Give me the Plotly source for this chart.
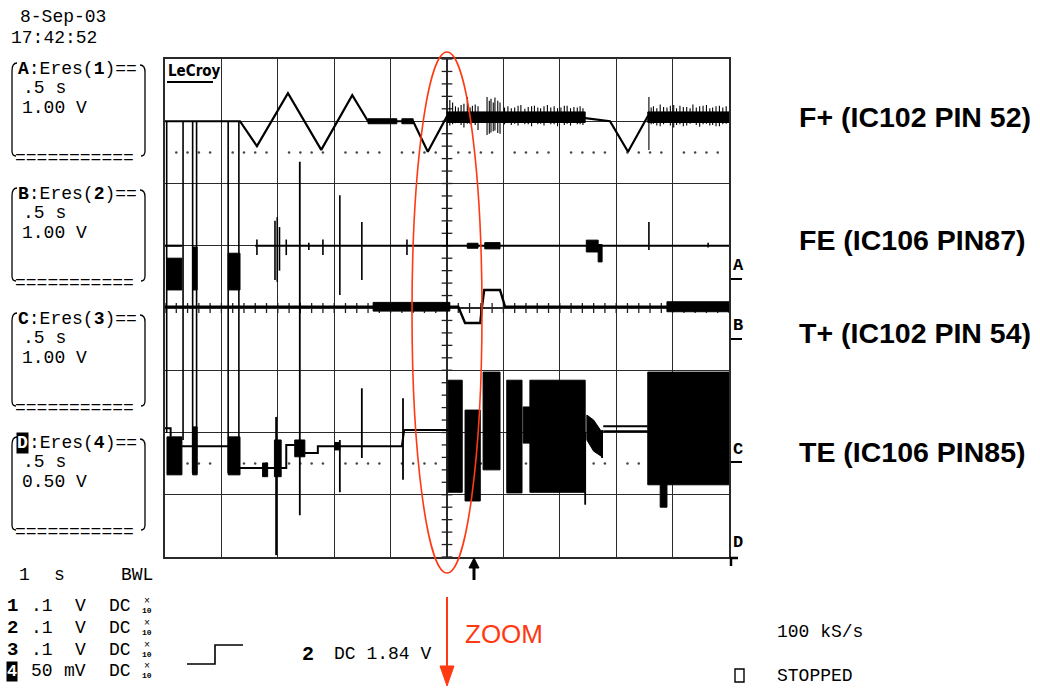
import plotly.graph_objects as go

W, H = 1040, 688
GX0, GX1, GY0, GY1 = 165, 729, 59, 557   # graticule box (page pixels)

# ---------------- data : x in time divisions (0.5 s/div), y in screen divisions ----------------
SEC_PER_DIV = 0.5

# Channel A : F+ (IC102 PIN 52)
A_t = [0.00, 1.33, 1.63, 2.18, 2.77, 3.32, 3.60, 4.40, 4.66, 5.00, 5.05, 7.45, 7.89, 8.21, 8.56, 10.00]
A_v = [7.00, 7.00, 6.60, 7.45, 6.54, 7.42, 7.00, 7.00, 6.51, 7.08, 7.12, 7.05, 7.00, 6.51, 7.08, 7.08]
A_band_t0 = [3.60, 4.20, 5.00, 8.56]
A_band_t1 = [4.11, 4.40, 7.45, 10.00]
A_band_lo = [6.96, 6.96, 6.98, 6.98]
A_band_hi = [7.04, 7.04, 7.15, 7.15]
A_spk_t = [5.05, 5.10, 5.15, 5.20, 5.25, 5.30, 5.36, 5.41, 5.45, 5.50, 5.55, 5.71, 5.75, 5.78, 5.82, 5.85, 5.90,
           5.94, 6.02, 6.08, 6.14, 6.20, 6.26, 6.31, 6.38, 6.44, 6.50, 6.55, 6.61, 6.66, 6.72, 6.78, 6.84, 6.90,
           6.96, 7.02, 7.08, 7.13, 7.19, 7.25, 7.31, 7.36, 7.41,
           8.58, 8.62, 8.66, 8.72, 8.78, 8.84, 8.90, 8.96, 9.02, 9.07, 9.13, 9.19, 9.25, 9.31, 9.36, 9.42, 9.48,
           9.54, 9.60, 9.66, 9.71, 9.77, 9.83, 9.89, 9.95]
A_spk_lo = [6.93, 6.95, 6.97, 6.98, 6.94, 6.90, 6.96, 6.95, 6.97, 6.94, 6.86, 6.78, 6.80, 6.82, 6.84, 6.85, 6.81,
            6.80, 6.95, 6.97, 6.94, 6.96, 6.93, 6.98, 6.95, 6.95, 6.92, 6.97, 6.95, 6.96, 6.93, 6.98, 6.95, 6.95,
            6.92, 6.97, 6.94, 6.96, 6.93, 6.98, 6.95, 6.95, 6.94,
            6.54, 6.95, 6.96, 6.93, 6.92, 6.95, 6.97, 6.93, 6.90, 6.94, 6.95, 6.92, 6.93, 6.96, 6.97, 6.94, 6.91,
            6.95, 6.96, 6.93, 6.94, 6.92, 6.92, 6.95, 6.96]
A_spk_hi = [7.34, 7.30, 7.24, 7.22, 7.26, 7.28, 7.39, 7.22, 7.25, 7.27, 7.24, 7.39, 7.33, 7.36, 7.30, 7.38, 7.33,
            7.30, 7.22, 7.24, 7.21, 7.22, 7.25, 7.26, 7.20, 7.23, 7.24, 7.25, 7.22, 7.21, 7.24, 7.26, 7.22, 7.24,
            7.21, 7.22, 7.25, 7.25, 7.21, 7.23, 7.22, 7.24, 7.21,
            7.39, 7.22, 7.24, 7.21, 7.27, 7.23, 7.22, 7.25, 7.26, 7.21, 7.25, 7.23, 7.23, 7.21, 7.27, 7.22, 7.24,
            7.25, 7.26, 7.21, 7.22, 7.24, 7.25, 7.22, 7.24]

# glitches common to all channels (vertical transitions)
G_t = [0.03, 0.32, 0.49, 0.56, 1.12, 1.31]
G_lo = [1.99, 1.88, 1.35, 1.35, 1.35, 1.35]
G_hi = [7.00, 7.00, 7.00, 7.00, 7.00, 7.00]

# Channel B : FE (IC106 PIN87)
B_t = [0.00, 0.30, None, 1.60, 10.00]
B_v = [5.00, 5.00, None, 5.00, 5.00]
B_burst_t0 = [0.035, 0.49, 1.12, 5.36, 5.67, 7.47, 7.68]
B_burst_t1 = [0.30, 0.57, 1.33, 5.55, 5.94, 7.68, 7.75]
B_burst_lo = [4.29, 4.29, 4.29, 4.96, 4.95, 4.90, 4.74]
B_burst_hi = [4.80, 4.98, 4.88, 5.04, 5.05, 5.09, 5.02]
B_spk_t = [1.63, 1.95, 1.99, 2.03, 2.15, 2.55, 2.80, 3.10, 3.49, 4.29, 5.00, 8.58, 9.63]
B_spk_lo = [4.85, 4.45, 4.42, 4.60, 4.85, 4.93, 4.85, 4.21, 4.45, 4.85, 5.00, 4.93, 4.97]
B_spk_hi = [5.10, 5.40, 5.46, 5.30, 5.10, 5.05, 5.10, 5.81, 5.38, 5.10, 5.37, 5.38, 5.05]

# Channel C : T+ (IC102 PIN 54)
C_t = [0.00, 5.14, 5.20, 5.32, 5.59, 5.62, 5.66, 5.94, 6.03, 10.00]
C_v = [4.02, 4.02, 4.02, 3.76, 3.76, 4.02, 4.29, 4.29, 4.02, 4.02]
C_band_t0 = [3.69, 8.90]
C_band_t1 = [5.05, 10.00]
C_band_lo = [3.95, 3.94]
C_band_hi = [4.09, 4.10]

# Channel D : TE (IC106 PIN85)
D_t = [0.00, 0.10, 0.10, None, 0.30, 1.12, None, 1.33, 1.99, None, 2.01, 2.15, 2.15, 2.30, None,
       2.48, 2.71, 2.71, 4.20, 4.24, 5.02, None, 7.77, 8.56, None, 7.77, 8.56]
D_v = [2.07, 2.07, 1.93, None, 1.78, 1.78, None, 1.43, 1.43, None, 1.43, 1.43, 1.80, 1.80, None,
       1.67, 1.67, 1.78, 1.78, 2.04, 2.04, None, 2.02, 2.02, None, 2.10, 2.10]
D_burst_t0 = [0.035, 0.49, 1.12, 1.73, 1.94, 2.30, 3.01, 5.02, 5.32, 5.64, 6.06, 6.35, 6.47, 8.56, 8.78]
D_burst_t1 = [0.30, 0.57, 1.33, 1.82, 2.06, 2.48, 3.10, 5.27, 5.59, 5.94, 6.33, 6.47, 7.45, 10.00, 8.90]
D_burst_lo = [1.32, 1.32, 1.32, 1.29, 1.29, 1.61, 1.72, 1.04, 0.90, 1.40, 1.03, 1.83, 1.04, 1.16, 0.80]
D_burst_hi = [1.93, 2.09, 1.93, 1.51, 1.88, 1.88, 1.84, 2.84, 2.36, 2.97, 2.84, 2.41, 2.84, 2.97, 2.55]
D_decay_t = [7.48, 7.60, 7.75, 7.75, 7.60, 7.48]
D_decay_v = [2.28, 2.20, 2.00, 1.61, 1.70, 1.88]
D_spk_t = [1.97, 2.39, 3.10, 3.49, 4.22, 7.45, 7.75]
D_spk_lo = [0.03, 0.67, 1.04, 1.59, 1.24, 0.84, 1.59]
D_spk_hi = [2.25, 6.35, 1.88, 2.71, 2.55, 2.00, 2.04]

# ---------------- figure ----------------
def px(x):
    return x / W


def py(y):
    return 1 - y / H


fig = go.Figure()
INK = "black"


def add_lines(t, v, width=2.0):
    fig.add_trace(go.Scatter(x=t, y=v, mode="lines", line=dict(color=INK, width=width),
                             hoverinfo="skip", showlegend=False, connectgaps=False))


def add_spikes(ts, los, his, width=1.6):
    xs, ys = [], []
    for t, lo, hi in zip(ts, los, his):
        xs += [t, t, None]
        ys += [lo, hi, None]
    add_lines(xs, ys, width)


def add_blocks(t0s, t1s, los, his):
    for t0, t1, lo, hi in zip(t0s, t1s, los, his):
        fig.add_trace(go.Scatter(x=[t0, t1, t1, t0, t0], y=[lo, lo, hi, hi, lo], mode="lines",
                                 fill="toself", fillcolor=INK, line=dict(color=INK, width=1),
                                 hoverinfo="skip", showlegend=False))


# reference dots rows (graticule decoration)
dx, dy = [], []
for row in (6.5, 1.5):
    for k in range(10):
        for f in (0.2, 0.4, 0.6, 0.8):
            dx.append(k + f)
            dy.append(row)
fig.add_trace(go.Scatter(x=dx, y=dy, mode="markers", marker=dict(color="#444", size=2.5),
                         hoverinfo="skip", showlegend=False))

# centre cross-hair minor ticks
tx, ty = [], []
for k in range(41):
    yy = k * 0.2
    tx += [5 - 0.095, 5 + 0.095, None]
    ty += [yy, yy, None]
for k in range(51):
    xx = k * 0.2
    tx += [xx, xx, None]
    ty += [4 - 0.08, 4 + 0.08, None]
fig.add_trace(go.Scatter(x=tx, y=ty, mode="lines", line=dict(color="#222", width=1.3),
                         hoverinfo="skip", showlegend=False))

# channel A
add_blocks(A_band_t0, A_band_t1, A_band_lo, A_band_hi)
add_lines(A_t, A_v, 2.2)
add_spikes(A_spk_t, A_spk_lo, A_spk_hi, 1.1)
# glitches
add_spikes(G_t, G_lo, G_hi, 1.6)
# channel B
add_lines(B_t, B_v, 2.2)
add_blocks(B_burst_t0, B_burst_t1, B_burst_lo, B_burst_hi)
add_spikes(B_spk_t, B_spk_lo, B_spk_hi, 1.6)
# channel C
add_lines(C_t, C_v, 2.4)
add_blocks(C_band_t0, C_band_t1, C_band_lo, C_band_hi)
# channel D
add_lines(D_t, D_v, 2.0)
add_blocks(D_burst_t0, D_burst_t1, D_burst_lo, D_burst_hi)
fig.add_trace(go.Scatter(x=D_decay_t + [D_decay_t[0]], y=D_decay_v + [D_decay_v[0]], mode="lines",
                         fill="toself", fillcolor=INK, line=dict(color=INK, width=1),
                         hoverinfo="skip", showlegend=False))
add_spikes(D_spk_t, D_spk_lo, D_spk_hi, 1.8)

axis_common = dict(showgrid=True, gridcolor="#2a2a2a", gridwidth=1.4, zeroline=False,
                   showline=True, mirror=True, linecolor="#2a2a2a", linewidth=2,
                   showticklabels=False, ticks="", dtick=1, tick0=0, fixedrange=True)
fig.update_layout(
    width=W, height=H, margin=dict(l=0, r=0, t=0, b=0),
    paper_bgcolor="white", plot_bgcolor="white", showlegend=False,
    xaxis=dict(range=[0, 10], domain=[px(GX0), px(GX1)], **axis_common),
    yaxis=dict(range=[0, 8], domain=[py(GY1), py(GY0)], **axis_common),
)

MONO = "Liberation Mono, DejaVu Sans Mono, monospace"
SANS = "Liberation Sans, Arial, sans-serif"
anns = []
shapes = []


def text(s, x, y, size=17, color=INK, family=MONO, anchor="left", bg=None):
    d = dict(text=s, x=px(x), y=py(y), xref="paper", yref="paper", showarrow=False,
             xanchor=anchor, yanchor="middle", font=dict(family=family, size=size, color=color))
    if bg:
        d["bgcolor"] = bg
        d["borderpad"] = 0
    anns.append(d)


def path(p, color=INK, width=1.5, fill=None):
    d = dict(type="path", path=p, xref="paper", yref="paper", line=dict(color=color, width=width))
    if fill:
        d["fillcolor"] = fill
    shapes.append(d)


def P(x, y):
    return f"{px(x):.5f},{py(y):.5f}"


# header
text("8-Sep-03", 18, 17, 18)
text("17:42:52", 9, 38, 18)

# channel boxes
boxes = [("A", "1", "1.00 V", 69), ("B", "2", "1.00 V", 194), ("C", "3", "1.00 V", 319), ("D", "4", "0.50 V", 443)]
for letter, num, volts, top in boxes:
    if letter == "D":
        text("<b>D</b>", 16, top, 18, color="white", bg="black")
        text(f":Eres(<b>{num}</b>)==", 27, top, 18)
    else:
        text(f"<b>{letter}</b>:Eres(<b>{num}</b>)==", 16, top, 18)
    text(".5 s", 21, top + 19, 18)
    text(volts, 20, top + 39, 18)
    text("===========", 13, top + 89, 18)
    path(f"M{P(17, top - 6)} Q{P(12, top - 6)} {P(12, top + 2)} L{P(12, top + 82)} Q{P(12, top + 87)} {P(16, top + 87)}",
         width=1.3)
    path(f"M{P(140, top - 4)} Q{P(145, top - 4)} {P(145, top + 3)} L{P(145, top + 82)} Q{P(145, top + 87)} {P(141, top + 87)}",
         width=1.3)

# timebase / channel settings
text("1", 17, 575, 18)
text("s", 52, 575, 18)
text("BWL", 119, 575, 18)
rows = [("1", ".1", "V", 606), ("2", ".1", "V", 628), ("3", ".1", "V", 650), ("4", "50", "mV", 671)]
for ch, val, unit, y in rows:
    if ch == "4":
        text("<b>4</b>", 6, y, 17, color="white", bg="black")
    else:
        text(f"<b>{ch}</b>", 5, y, 19)
    text(val, 29, y, 18)
    text(unit, 73 if unit == "V" else 62, y, 18)
    text("DC", 107, y, 18)
    text("×", 147, y - 5, 10, anchor="center")
    text("<b>10</b>", 147, y + 4, 8, anchor="center")

# trigger symbol and setting
path(f"M{P(187, 664)} L{P(215, 664)} L{P(215, 645)} L{P(243, 645)}", width=1.6)
text("<b>2</b>", 300, 654, 20)
text("DC 1.84 V", 332, 654, 18)
text("100 kS/s", 775, 632, 18)
path(f"M{P(735, 669)} L{P(744, 669)} L{P(744, 682)} L{P(735, 682)} Z", width=1.4)
text("STOPPED", 775, 676, 18)

# LeCroy logo
text("<b>LeCroy</b>", 166, 71, 15, family="DejaVu Sans Condensed, DejaVu Sans, sans-serif")
path(f"M{P(167, 82)} L{P(213, 82)}", width=2)

# channel ground markers on the right edge
for lab, y, ul in (("A", 265, 279), ("B", 325, 339), ("C", 449, 462), ("D", 542, None)):
    text(f"<b>{lab}</b>", 731, y, 17)
    if ul:
        path(f"M{P(731, ul)} L{P(742, ul)}", width=2)
path(f"M{P(731, 566)} L{P(731, 558)} L{P(738, 558)}", width=2.5)

# trigger position arrow
path(f"M{P(474, 580)} L{P(474, 567)}", width=3)
path(f"M{P(469, 568)} L{P(479, 568)} L{P(474, 558)} Z", width=1, fill=INK)

# signal names
for s, y in (("F+ (IC102 PIN 52)", 117), ("FE (IC106 PIN87)", 240), ("T+ (IC102 PIN 54)", 333),
             ("TE (IC106 PIN85)", 452)):
    text(f"<b>{s}</b>", 797, y, 28.5, family=SANS)

# red zoom annotation
RED = "#ff3a12"
shapes.append(dict(type="circle", xref="paper", yref="paper", x0=px(412), x1=px(482), y0=py(573), y1=py(52),
                   line=dict(color=RED, width=1.6)))
path(f"M{P(447, 597)} L{P(447, 668)}", color=RED, width=2)
path(f"M{P(440, 666)} L{P(454, 666)} L{P(447, 686)} Z", color=RED, width=1, fill=RED)
text("ZOOM", 463, 634, 26, color=RED, family=SANS)

fig.update_layout(annotations=anns, shapes=shapes)
fig.write_html("out.html", config={"displayModeBar": False, "staticPlot": True},
               post_script="document.body.style.margin='0';document.body.style.overflow='hidden';")
